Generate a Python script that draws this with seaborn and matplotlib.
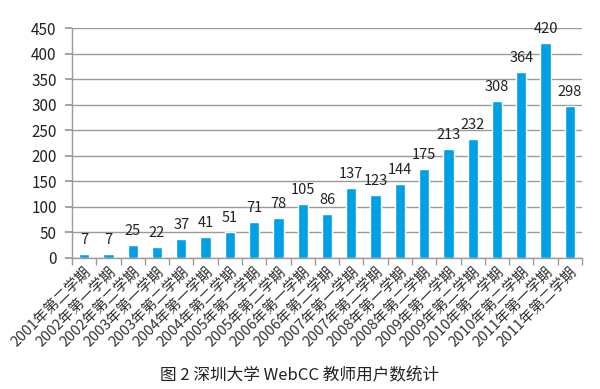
import numpy as np
import pandas as pd
import matplotlib
matplotlib.use("Agg")
import matplotlib.pyplot as plt
import seaborn as sns
from matplotlib.ticker import FixedLocator, MultipleLocator

# Data
semesters = ["2001年第二学期",
             "2002年第一学期", "2002年第二学期",
             "2003年第一学期", "2003年第二学期",
             "2004年第一学期", "2004年第二学期",
             "2005年第一学期", "2005年第二学期",
             "2006年第一学期", "2006年第二学期",
             "2007年第一学期", "2007年第二学期",
             "2008年第一学期", "2008年第二学期",
             "2009年第一学期", "2009年第二学期",
             "2010年第一学期", "2010年第二学期",
             "2011年第一学期", "2011年第二学期"]
users = [7, 7, 25, 22, 37, 41, 51, 71, 78, 105, 86,
         137, 123, 144, 175, 213, 232, 308, 364, 420, 298]
caption = "图 2 深圳大学 WebCC 教师用户数统计"

sns.set_theme(style="white")
plt.rcParams['font.family'] = ['Noto Sans CJK SC', 'DejaVu Sans']

df = pd.DataFrame({'semester': semesters, 'users': users})

fig = plt.figure(figsize=(6, 3.89), dpi=100)
ax = fig.add_axes([0.12, 0.337, 0.85, 0.591])

sns.barplot(data=df, x='semester', y='users', color='#00A0E6',
            saturation=1, width=0.42, ax=ax)

# Value labels
ax.bar_label(ax.containers[0], padding=5, fontsize=10.5, color='#222222')

# Axes styling
ax.set_ylim(0, 450)
ax.set_xlim(-0.5, len(semesters) - 0.5)
ax.yaxis.set_major_locator(MultipleLocator(50))
ax.grid(axis='y', color='#9a9a9a', linewidth=1)
ax.set_axisbelow(True)
for side in ['top', 'right']:
    ax.spines[side].set_visible(False)
for side in ['left', 'bottom']:
    ax.spines[side].set_color('#9a9a9a')
    ax.spines[side].set_linewidth(1)

ax.tick_params(axis='y', which='major', left=True, length=5, color='#9a9a9a',
               labelsize=11, labelcolor='#222222', pad=6)
ax.xaxis.set_minor_locator(FixedLocator(np.arange(-0.5, len(semesters), 1)))
ax.tick_params(axis='x', which='minor', bottom=True, length=5, color='#9a9a9a')
ax.tick_params(axis='x', which='major', bottom=False, length=0,
               labelsize=10.5, labelcolor='#333333', pad=5)
plt.setp(ax.get_xticklabels(), rotation=45, ha='right', rotation_mode='anchor')

ax.set_xlabel("")
ax.set_ylabel("")

fig.text(0.5, 0.033, caption, ha='center', va='center', fontsize=12, color='#222222')

fig.savefig("out.png", dpi=100)
